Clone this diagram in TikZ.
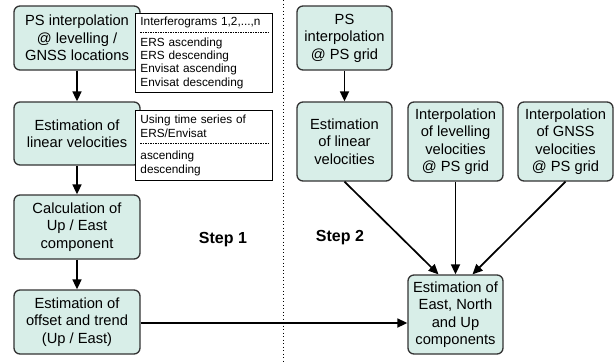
\documentclass[tikz,border=0pt]{standalone}
\usepackage{fontspec}
\setmainfont{Liberation Sans}
\usepackage{xcolor}
\usetikzlibrary{arrows.meta, positioning}

\definecolor{boxfill}{HTML}{D8EEE8}
\definecolor{boxline}{HTML}{333333}

\tikzset{
  stepbox/.style={rectangle, rounded corners=6bp, draw=boxline, line width=1.3bp,
    fill=boxfill, align=center, inner sep=2bp,
    font=\fontsize{14.7bp}{17.5bp}\selectfont},
  notebox/.style={rectangle, draw, fill=white, line width=0.9bp,
    align=left, anchor=north west, text width=127bp, inner xsep=5bp, inner ysep=2bp,
    font=\fontsize{11.8bp}{13.4bp}\selectfont},
  notesplit/.style={dash pattern=on 1.5bp off 1bp, line width=0.5bp},
  flow/.style={-{Triangle[length=10bp,width=9bp]}, line width=1.7bp},
  steplabel/.style={font=\fontsize{16bp}{19bp}\selectfont\bfseries}
}

\begin{document}
\begin{tikzpicture}[x=1bp, y=-1bp]
  \useasboundingbox (0,0) rectangle (614,361);

  % step 1
  \node[stepbox, minimum width=126bp, minimum height=64bp] (psloc) at (77,38) {PS interpolation\\@ levelling /\\GNSS locations};
  \node[stepbox, minimum width=126bp, minimum height=63bp] (linvel) at (77,133.5) {Estimation of\\linear velocities};
  \node[stepbox, minimum width=126bp, minimum height=64bp] (upeast) at (77,227) {Calculation of\\Up / East\\component};
  \node[stepbox, minimum width=126bp, minimum height=64bp] (offset) at (77,322) {Estimation of\\offset and trend\\(Up / East)};

  \node[notebox, minimum height=79bp] (ifg) at (135,13) {Interferograms 1,2,...,n\\[7bp]ERS ascending\\ERS descending\\Envisat ascending\\Envisat descending};
  \draw[notesplit] ([xshift=5bp,yshift=-19bp]ifg.north west) -- ([xshift=-5bp,yshift=-19bp]ifg.north east);
  \node[notebox, minimum height=70bp] (tseries) at (135,110) {Using time series of\\ERS/Envisat\\[9bp]ascending\\descending};
  \draw[notesplit] ([xshift=5bp,yshift=-33bp]tseries.north west) -- ([xshift=-5bp,yshift=-33bp]tseries.north east);

  \draw[flow] (psloc) -- (linvel);
  \draw[flow] (linvel) -- (upeast);
  \draw[flow] (upeast) -- (offset);

  \node[steplabel] (step1) at (223,240) {Step 1};

  % separator
  \draw[dash pattern=on 1bp off 2.5bp, line width=0.9bp] (283,0) -- (283,361);

  % step 2
  \node[stepbox, minimum width=95bp, minimum height=64bp] (psgrid) at (344.5,38) {PS\\interpolation\\@ PS grid};
  \node[stepbox, minimum width=95bp, minimum height=79bp] (linvel2) at (344.5,141.5) {Estimation\\of linear\\velocities};
  \node[stepbox, minimum width=95bp, minimum height=79bp] (levvel) at (455.5,141.5) {Interpolation\\of levelling\\velocities\\@ PS grid};
  \node[stepbox, minimum width=95bp, minimum height=79bp] (gnssvel) at (565.5,141.5) {Interpolation\\of GNSS\\velocities\\@ PS grid};
  \node[stepbox, minimum width=95bp, minimum height=79bp] (enu) at (455.5,314.5) {Estimation of\\East, North\\and Up\\components};

  \node[steplabel] (step2) at (340,238) {Step 2};

  \draw[flow] (psgrid) -- (linvel2);
  \draw[flow] (linvel2.south) -- ([xshift=-17bp]enu.north);
  \draw[flow] (levvel) -- (enu);
  \draw[flow] (gnssvel.south) -- ([xshift=17bp]enu.north);
  \draw[flow] ([yshift=-1bp]offset.east) -- ([yshift=-1bp]offset.east -| enu.west);
\end{tikzpicture}
\end{document}
